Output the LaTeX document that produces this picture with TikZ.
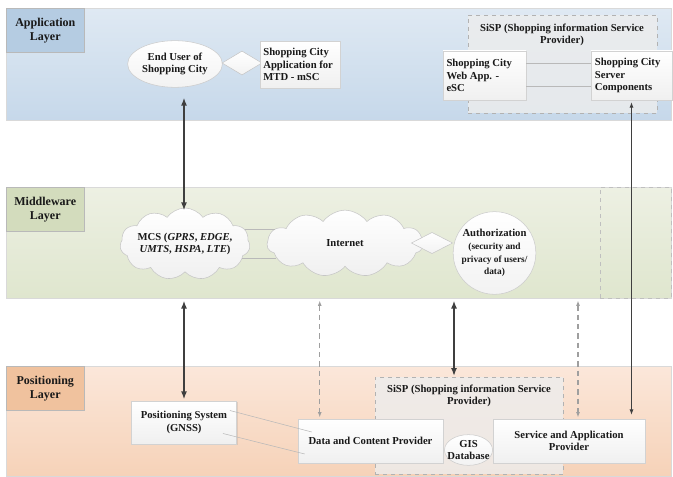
\documentclass[tikz,border=0pt]{standalone}
\usepackage{fontspec}
\setmainfont{Liberation Serif}
\usepackage{xcolor}
\usepackage{tikz}
\usetikzlibrary{shapes.geometric, shapes.symbols, arrows.meta, calc, positioning, shadows}
\definecolor{appTop}{HTML}{DFE9F3}
\definecolor{appBot}{HTML}{C6D8EA}
\definecolor{appTag}{HTML}{B5CCE2}
\definecolor{midTop}{HTML}{EDF0E3}
\definecolor{midBot}{HTML}{DFE6CE}
\definecolor{midTag}{HTML}{D3DCBD}
\definecolor{posTop}{HTML}{FBE7DA}
\definecolor{posBot}{HTML}{F6D2B8}
\definecolor{posTag}{HTML}{F0C29E}
\definecolor{inkGray}{HTML}{3F3F3F}

\begin{document}
\begin{tikzpicture}
[x=0.75pt, y=-0.75pt,
every node/.style={font=\bfseries\fontsize{8}{9.5}\selectfont, text=black!90},
band/.style={rectangle, draw=gray!30, anchor=north west, minimum width=498.75pt, inner sep=0},
tag/.style={rectangle, draw=gray!55, anchor=north west, minimum width=58.5pt, minimum height=33pt, align=center, inner sep=0, font=\bfseries\fontsize{9}{10.5}\selectfont},
box/.style={rectangle, draw=gray!35, top color=white, bottom color=gray!12, inner sep=2.5pt, drop shadow={opacity=0.2, shadow xshift=0.8pt, shadow yshift=-0.8pt}},
group/.style={rectangle, draw=gray!60, dashed, fill=gray!14, fill opacity=0.8, inner sep=0},
bubble/.style={draw=gray!40, top color=white, bottom color=gray!10, inner sep=0, align=flush center},
puff/.style={cloud, cloud puffs=11, cloud puff arc=110, cloud ignores aspect, draw=gray!45, top color=white, bottom color=gray!12, align=center, inner xsep=-14pt, inner ysep=-3pt},
joint/.style={diamond, draw=gray!45, top color=white, bottom color=gray!10, inner sep=0},
link/.style={draw=gray!55, line width=0.4pt},
bigarrow/.style={draw=inkGray, line width=1.4pt, {Latex[length=6pt,width=4.5pt]}-{Latex[length=6pt,width=4.5pt]}},
thinarrow/.style={draw=inkGray, line width=0.6pt, {Latex[length=4pt,width=3pt]}-{Latex[length=4pt,width=3pt]}},
dasharrow/.style={draw=gray!75, line width=0.9pt, dash pattern=on 4pt off 3pt, {Latex[length=4pt,width=3pt]}-{Latex[length=4pt,width=3pt]}}
]
\useasboundingbox (0,0) rectangle (673,477);

\node[band, minimum height=84pt, top color=appTop, bottom color=appBot] (appband) at (6,8) {};
\node[tag, fill=appTag] (apptag) at (6,8) {Application\\Layer};
\node[band, minimum height=83.25pt, top color=midTop, bottom color=midBot] (midband) at (6,187) {};
\node[tag, fill=midTag] (midtag) at (6,187) {Middleware\\Layer};
\node[band, minimum height=82.5pt, top color=posTop, bottom color=posBot] (posband) at (6,366) {};
\node[tag, fill=posTag] (postag) at (6,366) {Positioning\\Layer};
\node[rectangle, draw=gray!50, dashed, anchor=north west, minimum width=53.25pt, minimum height=83.25pt, inner sep=0] (midext) at (600,187) {};

\node[bubble, ellipse, minimum width=71pt, minimum height=35pt] (enduser) at (175,64) {End User of\\Shopping City};
\node[joint, minimum width=30pt, minimum height=18pt] (appjoint) at (242,63) {};
\node[box, text width=55pt, minimum height=35pt, align=flush left] (mobileapp) at (300,64.5) {Shopping City\\Application for\\MTD - mSC};

\node[group, minimum width=141.75pt, minimum height=73.5pt] (sisptop) at (562.5,64) {};
\node[align=center] (sisptoplabel) at (562,35) {SiSP (Shopping information Service\\Provider)};
\node[box, text width=57pt, minimum height=36.75pt, align=flush left] (webapp) at (484.5,75.5) {Shopping City\\Web App. -\\eSC};
\node[box, text width=55pt, minimum height=36.75pt, align=flush left, inner xsep=3pt] (server) at (631.5,75.5) {Shopping City\\Server\\Components};
\draw[link] ($(webapp.east)+(0,-12)$) -- ($(server.west)+(0,-12)$);
\draw[link] ($(webapp.east)+(0,11)$) -- ($(server.west)+(0,11)$);

\node[puff, minimum width=97.5pt, minimum height=54pt] (mcs) at (185,244) {MCS (\textit{GPRS}, \textit{EDGE},\\\textit{UMTS}, \textit{HSPA}, \textit{LTE})};
\node[puff, minimum width=117pt, minimum height=50pt] (internet) at (345,243.5) {Internet};
\draw[link] (mcs.14) -- (mcs.14 -| internet.168);
\draw[link] (mcs.-14) -- (mcs.-14 -| internet.192);
\node[joint, minimum width=31pt, minimum height=16pt] (midjoint) at (432,243) {};
\node[bubble, circle, minimum size=62pt, text width=52pt, inner sep=-3pt] (auth) at (494.5,253) {Authorization\\{\fontsize{7}{9.5}\selectfont(security and\\privacy of users/\\data)}};

\node[box, text width=74pt, minimum height=32.25pt, align=flush center] (gnss) at (184,422.5) {Positioning System\\(GNSS)};
\node[group, minimum width=141pt, minimum height=72.75pt] (sispbot) at (469,425.5) {};
\node[align=center] (sispbotlabel) at (469,396) {SiSP (Shopping information Service\\Provider)};
\node[box, minimum width=108.75pt, minimum height=33pt, align=center] (data) at (370.5,441) {Data and Content Provider};
\node[box, minimum width=114pt, minimum height=33pt, align=center] (service) at (569,441) {Service and Application\\Provider};
\node[bubble, ellipse, minimum width=36pt, minimum height=23pt, inner xsep=-5pt, inner ysep=-3pt] (gis) at (468.5,450) {GIS\\Database};
\draw[link] ($(gnss.east)+(-7,-12)$) -- ($(data.west)+(14,-9)$);
\draw[link] ($(gnss.east)+(-14,11)$) -- ($(data.west)+(7,13)$);

\coordinate (datain) at ($(data.north west)+(22,0)$);
\coordinate (sispin) at ($(sispbot.north)+(-15,0)$);
\coordinate (servicein) at ($(service.north)+(9,0)$);
\draw[bigarrow, shorten <=7.5pt, shorten >=-2pt] (enduser.south -| gnss) -- (mcs.north -| gnss);
\draw[bigarrow, shorten <=1.5pt, shorten >=1pt] (midband.south -| gnss) -- (gnss.north);
\draw[dasharrow, shorten <=1.5pt, shorten >=1pt] (midband.south -| datain) -- (datain);
\draw[bigarrow, shorten <=1.5pt, shorten >=0.5pt] (midband.south -| sispin) -- (sispin);
\draw[dasharrow, shorten <=1.5pt, shorten >=1pt] (midband.south -| servicein) -- (servicein);
\draw[thinarrow, shorten <=1.5pt, shorten >=3pt] (server.south) -- (server.south |- service.north);
\end{tikzpicture}
\end{document}
